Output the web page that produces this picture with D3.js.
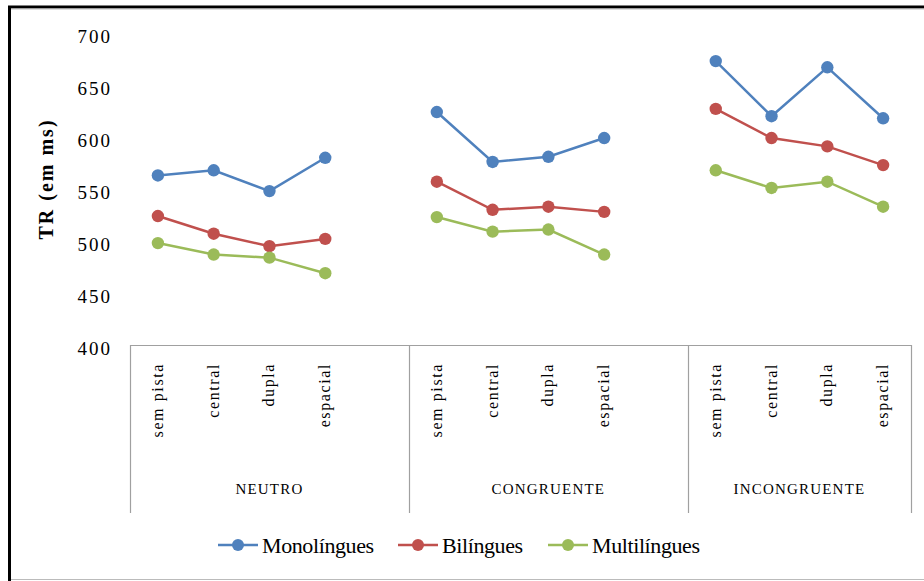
<!DOCTYPE html>
<html>
<head>
<meta charset="utf-8">
<script src="https://cdn.jsdelivr.net/npm/d3@7"></script>
<style>
  body { margin: 0; background: #fff; }
  svg text { font-family: "Times New Roman", "Liberation Serif", Tinos, serif; fill: #000; }
</style>
</head>
<body>
<svg width="924" height="581"></svg>
<script>
// data
const groups = ["NEUTRO", "CONGRUENTE", "INCONGRUENTE"];
const conditions = ["sem pista", "central", "dupla", "espacial"];
const yTicks = [400, 450, 500, 550, 600, 650, 700];

const monolingues  = [[563, 568, 548, 580], [624, 576, 581, 599], [673, 620, 667, 618]];
const bilingues    = [[524, 507, 495, 502], [557, 530, 533, 528], [627, 599, 591, 573]];
const multilingues = [[498, 487, 484, 469], [523, 509, 511, 487], [568, 551, 557, 533]];

const seriesNames = ["Monolíngues", "Bilíngues", "Multilíngues"];
const seriesColors = ["#4F81BD", "#C0504D", "#9BBB59"];
const series = [monolingues, bilingues, multilingues];

const serif = "'Times New Roman', 'Liberation Serif', serif";
const svg = d3.select("svg");

// outer frame (cropped picture: top + left black, bottom grey)
svg.append("line").attr("x1", 8).attr("x2", 924).attr("y1", 7).attr("y2", 7)
   .attr("stroke", "#000").attr("stroke-width", 3);
svg.append("line").attr("x1", 8).attr("x2", 924).attr("y1", 9).attr("y2", 9)
   .attr("stroke", "#bbb").attr("stroke-width", 1);
svg.append("line").attr("x1", 9.5).attr("x2", 9.5).attr("y1", 6).attr("y2", 581)
   .attr("stroke", "#000").attr("stroke-width", 3);
svg.append("line").attr("x1", 11).attr("x2", 924).attr("y1", 579.5).attr("y2", 579.5)
   .attr("stroke", "#bbb").attr("stroke-width", 1);

// category slots: 4 conditions per group, plus a blank slot between groups
const slots = [];
groups.forEach((g, gi) => {
  conditions.forEach(c => slots.push(g + "|" + c));
  if (gi < groups.length - 1) slots.push(g + "|");
});

const x = d3.scaleBand().domain(slots).range([130, 911]).padding(0);
const y = d3.scaleLinear().domain([400, 700]).range([345, 33]);

// y axis labels
const yAxis = svg.append("g")
   .attr("transform", "translate(112,0)")
   .call(d3.axisLeft(y).tickValues(yTicks).tickSize(0).tickPadding(0));
yAxis.attr("font-family", serif);
yAxis.select(".domain").remove();
yAxis.selectAll("text")
   .attr("font-size", "19px")
   .attr("letter-spacing", "2px")
   .attr("fill", "#000")
   .attr("dy", "0.5em");

// y title
svg.append("text")
   .attr("transform", "translate(53,179) rotate(-90)")
   .attr("text-anchor", "middle")
   .attr("font-family", serif)
   .attr("font-size", "20px")
   .attr("font-weight", "bold")
   .attr("letter-spacing", "2px")
   .text("TR (em ms)");

// category table lines
const tableColor = "#a0a0a0";
svg.append("line")
   .attr("x1", x.range()[0]).attr("x2", x.range()[1])
   .attr("y1", 345.5).attr("y2", 345.5)
   .attr("stroke", tableColor).attr("stroke-width", 1.2);

const groupStarts = groups.map(g => x(g + "|" + conditions[0]));
const dividers = groupStarts.concat([x.range()[1]]);
svg.selectAll(".divider")
   .data(dividers)
   .join("line")
   .attr("x1", d => Math.round(d) + 0.5).attr("x2", d => Math.round(d) + 0.5)
   .attr("y1", 345).attr("y2", 513)
   .attr("stroke", tableColor).attr("stroke-width", 1.2);

// condition labels (rotated)
groups.forEach(g => {
  svg.selectAll(null)
     .data(conditions)
     .join("text")
     .attr("transform", c => `translate(${x(g + "|" + c) + x.bandwidth() / 2 + 5},363) rotate(-90)`)
     .attr("text-anchor", "end")
     .attr("font-family", serif)
     .attr("font-size", "16px")
     .attr("letter-spacing", "1.6px")
     .attr("fill", "#222")
     .text(c => c);
});

// group labels
svg.selectAll(".group-label")
   .data(groups)
   .join("text")
   .attr("x", (g, i) => (dividers[i] + dividers[i + 1]) / 2)
   .attr("y", 494)
   .attr("text-anchor", "middle")
   .attr("font-family", serif)
   .attr("font-size", "15px")
   .attr("letter-spacing", "1.2px")
   .attr("fill", "#222")
   .text(g => g);

// lines and markers
const line = d3.line()
   .x(d => x(d.key) + x.bandwidth() / 2)
   .y(d => y(d.value));

series.forEach((s, si) => {
  groups.forEach((g, gi) => {
    const pts = conditions.map((c, ci) => ({ key: g + "|" + c, value: s[gi][ci] }));
    svg.append("path")
       .attr("d", line(pts))
       .attr("fill", "none")
       .attr("stroke", seriesColors[si])
       .attr("stroke-width", 2.5);
    svg.selectAll(null)
       .data(pts)
       .join("circle")
       .attr("cx", d => x(d.key) + x.bandwidth() / 2)
       .attr("cy", d => y(d.value))
       .attr("r", 6.2)
       .attr("fill", seriesColors[si]);
  });
});

// legend
const legendX = [218, 398, 548];
const legend = svg.selectAll(".legend")
   .data(seriesNames)
   .join("g")
   .attr("transform", (d, i) => `translate(${legendX[i]},545)`);
legend.append("line")
   .attr("x1", 0).attr("x2", 40)
   .attr("stroke", (d, i) => seriesColors[i])
   .attr("stroke-width", 2.5);
legend.append("circle")
   .attr("cx", 20).attr("r", 6)
   .attr("fill", (d, i) => seriesColors[i]);
legend.append("text")
   .attr("x", 44)
   .attr("y", 8)
   .attr("font-family", serif)
   .attr("font-size", "22px")
   .attr("letter-spacing", "-0.4px")
   .text(d => d);
</script>
</body>
</html>
